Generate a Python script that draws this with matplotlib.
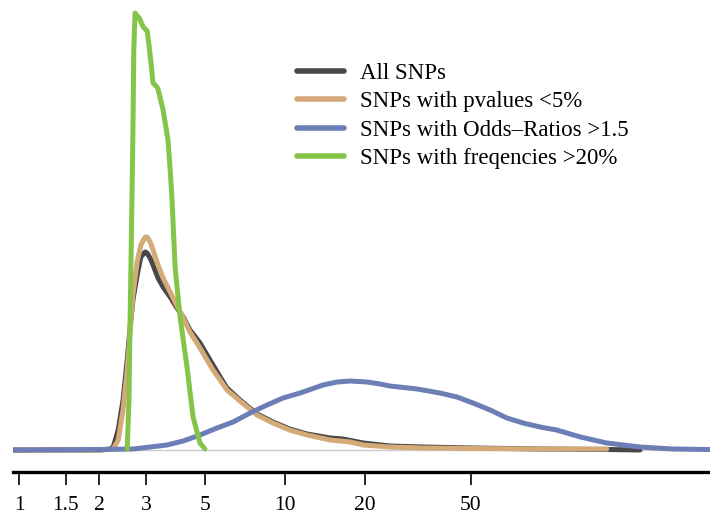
import matplotlib
matplotlib.use("Agg")
import matplotlib.pyplot as plt
from matplotlib.ticker import FixedLocator, FixedFormatter, NullLocator

plt.rcParams['font.family'] = ['Liberation Serif', 'DejaVu Serif']

# ---- data ----
all_x = [0.949, 2.02, 2.20, 2.26, 2.36, 2.46, 2.55, 2.61, 2.68, 2.78, 2.87, 2.98, 3.03, 3.11,
         3.19, 3.33, 3.48, 3.70, 3.86, 4.14, 4.39, 4.79, 5.09, 5.36, 5.70, 6.05, 6.77, 7.85,
         9.01, 10.4, 12.1, 14.8, 16.5, 19.7, 24.8, 33.0, 50.9, 90.9, 162, 216]
all_y = [0.0, 0.0, 0.01, 0.03, 0.20, 0.50, 0.90, 1.20, 1.50, 1.75, 1.93, 1.98, 1.97, 1.92,
         1.85, 1.72, 1.63, 1.53, 1.45, 1.33, 1.20, 1.07, 0.95, 0.85, 0.73, 0.62, 0.50, 0.36,
         0.28, 0.21, 0.16, 0.12, 0.11, 0.07, 0.04, 0.03, 0.02, 0.01, 0.005, 0.0]

pval_x = [0.949, 2.02, 2.26, 2.36, 2.46, 2.55, 2.61, 2.68, 2.78, 2.87, 2.98, 3.03, 3.11, 3.19,
          3.33, 3.48, 3.70, 3.86, 4.14, 4.39, 4.79, 5.09, 5.36, 5.70, 6.05, 6.77, 7.85, 9.01,
          10.4, 12.1, 14.8, 17.6, 19.7, 24.8, 33.0, 50.9, 90.9, 162]
pval_y = [0.0, 0.0, 0.01, 0.10, 0.40, 0.80, 1.15, 1.55, 1.88, 2.05, 2.13, 2.13, 2.08, 2.00,
          1.85, 1.72, 1.58, 1.48, 1.32, 1.18, 1.02, 0.90, 0.80, 0.70, 0.60, 0.49, 0.35, 0.27,
          0.20, 0.15, 0.10, 0.08, 0.05, 0.03, 0.02, 0.015, 0.01, 0.01]

odds_x = [0.949, 2.02, 2.68, 3.11, 3.60, 4.14, 4.79, 5.55, 6.38, 7.39, 8.56, 9.83, 11.4, 13.9,
          15.7, 17.6, 20.3, 22.8, 24.8, 31.4, 38.2, 44.3, 50.9, 59.0, 68.3, 78.5, 90.9, 105,
          129, 162, 216, 287, 396]
odds_y = [0.0, 0.005, 0.01, 0.03, 0.05, 0.09, 0.15, 0.22, 0.28, 0.37, 0.45, 0.52, 0.57, 0.65,
          0.68, 0.69, 0.68, 0.66, 0.64, 0.61, 0.57, 0.53, 0.47, 0.40, 0.32, 0.27, 0.23, 0.20,
          0.13, 0.07, 0.03, 0.01, 0.005]

freq_x = [2.55, 2.59, 2.61, 2.64, 2.68, 2.70, 2.73, 2.76, 2.83, 2.93, 3.03, 3.08, 3.14, 3.19,
          3.30, 3.33, 3.48, 3.63, 3.70, 3.76, 3.86, 4.03, 4.28, 4.51, 4.79, 5.00]
freq_y = [0.01, 0.50, 1.17, 2.00, 3.17, 4.00, 4.37, 4.35, 4.32, 4.23, 4.19, 4.05, 3.85, 3.67,
          3.63, 3.61, 3.40, 3.10, 2.80, 2.50, 1.83, 1.33, 0.83, 0.33, 0.07, 0.01]

labels = ["All SNPs", "SNPs with pvalues <5%", "SNPs with Odds\u2013Ratios >1.5",
          "SNPs with freqencies >20%"]
colors = ["#484848", "#d4aa78", "#6d7db6", "#84c448"]

tick_vals = [1, 1.5, 2, 3, 5, 10, 20, 50]
tick_labels = ["1", "1.5", "2", "3", "5", "10", "20", "50"]

# ---- figure ----
W, H = 710, 514
fig = plt.figure(figsize=(W / 100, H / 100), dpi=100)
ax = fig.add_axes([13 / W, (H - 472) / H, (W - 13) / W, 472 / H])

ax.axhline(0, color="#cccccc", lw=1, zorder=1)

series = [(all_x, all_y), (pval_x, pval_y), (odds_x, odds_y), (freq_x, freq_y)]
for (xs, ys), lab, c in zip(series, labels, colors):
    ax.plot(xs, ys, color=c, lw=3.6, label=lab, solid_capstyle="round",
            solid_joinstyle="round", zorder=2)

ax.set_xscale("log")
ax.set_xlim(0.949, 396)
ax.set_ylim(-0.22, 4.5)

ax.xaxis.set_major_locator(FixedLocator(tick_vals))
ax.xaxis.set_major_formatter(FixedFormatter(tick_labels))
ax.xaxis.set_minor_locator(NullLocator())
ax.tick_params(axis="x", direction="out", length=9, width=1.2, pad=8,
               labelsize=15.5, color="black")
ax.set_yticks([])

for s in ["top", "right", "left"]:
    ax.spines[s].set_visible(False)
ax.spines["bottom"].set_linewidth(2.4)
ax.spines["bottom"].set_color("black")

leg = fig.legend(loc="upper left", bbox_to_anchor=(297 / W, 1 - 63 / H),
                 frameon=False, fontsize=16.5, handlelength=2.05, handletextpad=0.7,
                 labelspacing=0.32, borderpad=0, borderaxespad=0)
for l in leg.get_lines():
    l.set_linewidth(4)

fig.savefig("out.png", dpi=100)
